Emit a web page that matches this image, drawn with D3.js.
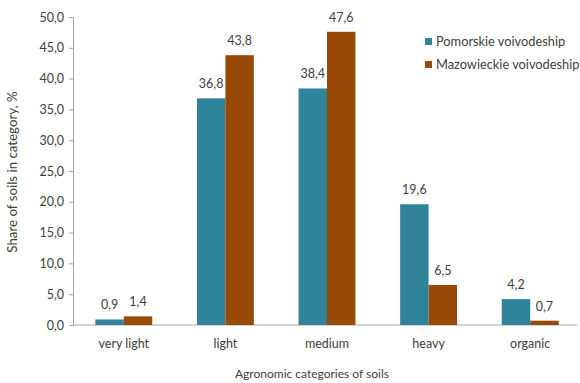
<!DOCTYPE html>
<html>
<head>
<meta charset="utf-8">
<script src="https://cdn.jsdelivr.net/npm/d3@7/dist/d3.min.js"></script>
<style>
  html, body { margin: 0; padding: 0; background: #fff; }
  svg { display: block; }
  text { font-family: Lato, "Open Sans", sans-serif; fill: #404040; }
</style>
</head>
<body>
<svg id="chart" width="580" height="383"></svg>
<script>
// Soil categories and the share of each in two voivodeships, %
const categories = ["very light", "light", "medium", "heavy", "organic"];
const seriesNames = ["Pomorskie voivodeship", "Mazowieckie voivodeship"];
const pomorskie = [0.9, 36.8, 38.4, 19.6, 4.2];
const mazowieckie = [1.4, 43.8, 47.6, 6.5, 0.7];
const yTicks = [0, 5, 10, 15, 20, 25, 30, 35, 40, 45, 50];
const colors = ["#2F849A", "#984807"];

const svg = d3.select("#chart");
const margin = { left: 73, right: -1, top: 17, bottom: 58 };
const W = 580, H = 383;

const x = d3.scaleBand().domain(categories)
  .range([margin.left, W - margin.right]).paddingInner(0.44).paddingOuter(0.22);
const xs = d3.scaleBand().domain(seriesNames).range([0, x.bandwidth()]);
const y = d3.scaleLinear().domain([0, 50]).range([H - margin.bottom, margin.top]);

const fmt = v => d3.format(".1f")(v).replace(".", ",");

// Y axis
const yAxis = svg.append("g").attr("transform", `translate(${margin.left},0)`)
  .call(d3.axisLeft(y).tickValues(yTicks).tickFormat(fmt).tickSize(4).tickPadding(5));
yAxis.select(".domain").attr("stroke", "#A6A6A6");
yAxis.selectAll(".tick line").attr("stroke", "#A6A6A6");
yAxis.selectAll(".tick text").style("font-size", "12.5px").attr("fill", "#404040");

// X axis baseline and category labels
const xAxis = svg.append("g").attr("transform", `translate(0,${y(0)})`)
  .call(d3.axisBottom(x).tickSize(0).tickPadding(14));
xAxis.select(".domain").attr("stroke", "#A6A6A6").attr("d", `M${margin.left},0H577`);
xAxis.selectAll(".tick text").style("font-size", "12.5px").attr("fill", "#404040");

const rows = categories.map((c, i) => ({ c, vals: [pomorskie[i], mazowieckie[i]] }));

const groups = svg.append("g").selectAll("g").data(rows).join("g")
  .attr("transform", d => `translate(${x(d.c)},0)`);

groups.selectAll("rect").data(d => d.vals.map((v, j) => ({ v, s: seriesNames[j], j })))
  .join("rect")
  .attr("x", d => xs(d.s))
  .attr("width", xs.bandwidth())
  .attr("y", d => y(d.v))
  .attr("height", d => y(0) - y(d.v))
  .attr("fill", d => colors[d.j]);

groups.selectAll("text.val").data(d => d.vals.map((v, j) => ({ v, s: seriesNames[j] })))
  .join("text").attr("class", "val")
  .attr("x", d => xs(d.s) + xs.bandwidth() / 2)
  .attr("y", d => y(d.v) - 10)
  .attr("text-anchor", "middle")
  .style("font-size", "12.5px")
  .text(d => fmt(d.v));

// Axis titles
svg.append("text")
  .attr("x", 312).attr("y", 378)
  .attr("text-anchor", "middle").style("font-size", "12px")
  .text("Agronomic categories of soils");

svg.append("text")
  .attr("transform", `translate(17,172) rotate(-90)`)
  .attr("text-anchor", "middle").style("font-size", "13.3px")
  .text("Share of soils in category, %");

// Legend
const legend = svg.append("g").attr("transform", "translate(425,38)");
seriesNames.forEach((name, i) => {
  const g = legend.append("g").attr("transform", `translate(0,${i * 23})`);
  g.append("rect").attr("width", 7).attr("height", 7).attr("fill", colors[i]);
  g.append("text").attr("x", 11).attr("y", 8).style("font-size", "12.8px").text(name);
});
</script>
</body>
</html>
